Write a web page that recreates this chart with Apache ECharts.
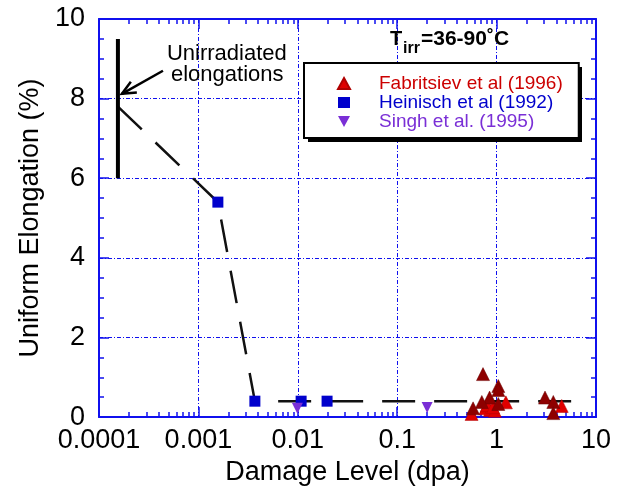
<!DOCTYPE html>
<html>
<head>
<meta charset="utf-8">
<script src="https://cdn.jsdelivr.net/npm/echarts@6/dist/echarts.min.js"></script>
<style>html,body{margin:0;padding:0;background:#fff}#c{width:619px;height:491px}</style>
</head>
<body>
<div id="c"></div>
<script>
// ---- data ----
const xTickLabels = ['0.0001', '0.001', '0.01', '0.1', '1', '10'];
const yTickLabels = ['0', '2', '4', '6', '8', '10'];
const seriesNames = ['Fabritsiev et al (1996)', 'Heinisch et al (1992)', 'Singh et al. (1995)'];
const fabritsievDark = [[0.73,1.08],[1.04,0.78],[1.04,0.68],[0.85,0.49],[0.71,0.38],[1.04,0.33],[0.58,0.22],[3.07,0.49],[3.72,0.38],[3.72,0.10]];
const fabritsievBright = [[1.24,0.37],[0.56,0.08],[0.77,0.22],[0.86,0.18],[0.96,0.16],[0.80,0.30],[4.52,0.28],[0.92,0.25]];
const heinisch = [[0.00157,5.4],[0.0037,0.4],[0.0108,0.4],[0.0197,0.4]];
const singh = [[0.0099,0.22],[0.2,0.24]];
const trendLine = [[0.000155,7.8],[0.00157,5.4],[0.0037,0.4],[6.15,0.4]];
const unirradiated = [[0.000155,6.0],[0.000155,9.5]];
const annotationText = ['Unirradiated', 'elongations'];

const FONT = '"Liberation Sans", Arial, Helvetica, sans-serif';
const BLUE = '#1010ee';
const GRID_DASH = [4, 2, 1, 2];
const DOWN_TRIANGLE = 'path://M0,0 L10,0 L5,9 Z';

// minor tick positions in log10 space (axis structure, not data)
const minorLog = [];
for (let d = -4; d < 1; d++) for (let m = 2; m <= 9; m++) minorLog.push(d + Math.log10(m));

const chart = echarts.init(document.getElementById('c'), null, {renderer: 'canvas'});

function majorX(pos, showLabel) {
  return {
    type: 'log', logBase: 10, min: 0.0001, max: 10, position: pos, gridIndex: 0,
    axisLine: {show: true, onZero: false, lineStyle: {color: BLUE, width: 2}},
    axisTick: {show: true, inside: true, length: 10, lineStyle: {color: BLUE, width: 1.5}},
    axisLabel: {show: showLabel, margin: 10, color: '#000', fontSize: 27, fontFamily: FONT,
      formatter: function (v, i) { return xTickLabels[i]; }},
    splitLine: {show: showLabel, lineStyle: {color: BLUE, width: 1, type: GRID_DASH}},
    minorTick: {show: false}, minorSplitLine: {show: false},
    name: showLabel ? 'Damage Level (dpa)' : '', nameLocation: 'middle', nameGap: 36,
    nameTextStyle: {color: '#000', fontSize: 27, fontFamily: FONT}
  };
}
function minorX(pos) {
  return {
    type: 'value', min: -4, max: 1, position: pos, gridIndex: 0,
    axisLine: {show: false, onZero: false},
    axisTick: {show: true, inside: true, length: 5, customValues: minorLog, lineStyle: {color: BLUE, width: 1.5}},
    axisLabel: {show: false}, splitLine: {show: false}
  };
}
function yAx(pos, showLabel) {
  return {
    type: 'value', min: 0, max: 10, interval: 2, position: pos, gridIndex: 0,
    axisLine: {show: true, onZero: false, lineStyle: {color: BLUE, width: 2}},
    axisTick: {show: true, inside: true, length: 10, lineStyle: {color: BLUE, width: 1.5}},
    minorTick: {show: true, splitNumber: 4, length: 5, lineStyle: {color: BLUE, width: 1.5}},
    axisLabel: {show: showLabel, margin: 14, color: '#000', fontSize: 27, fontFamily: FONT,
      formatter: function (v, i) { return yTickLabels[i]; }},
    splitLine: {show: showLabel, lineStyle: {color: BLUE, width: 1, type: GRID_DASH}},
    name: showLabel ? 'Uniform Elongation (%)' : '', nameLocation: 'middle', nameGap: 52,
    nameTextStyle: {color: '#000', fontSize: 27, fontFamily: FONT}
  };
}

const LEG = {left: 304, top: 63, w: 274, h: 75};

const option = {
  animation: false,
  backgroundColor: '#fff',
  grid: {left: 99, top: 19, right: 23, bottom: 73, containLabel: false},
  xAxis: [majorX('bottom', true), minorX('bottom'), majorX('top', false), minorX('top')],
  yAxis: [yAx('left', true), yAx('right', false)],
  legend: {
    orient: 'vertical', left: LEG.left, top: LEG.top, z: 6,
    padding: [11, 16, 7, 33], itemGap: 0, itemWidth: 12, itemHeight: 11,
    symbolKeepAspect: true,
    backgroundColor: '#fff', borderColor: '#000', borderWidth: 2,
    textStyle: {fontSize: 19, lineHeight: 19, fontFamily: FONT,
      rich: {g: {width: 24, fontSize: 19, lineHeight: 19}}},
    formatter: function (name) { return '{g|}' + name; },
    selectedMode: false,
    data: [
      {name: seriesNames[0], icon: 'triangle', textStyle: {color: '#cc0000'}},
      {name: seriesNames[1], icon: 'rect', textStyle: {color: '#0000cc'}},
      {name: seriesNames[2], icon: DOWN_TRIANGLE, textStyle: {color: '#7a2fd6'}}
    ]
  },
  series: [
    {type: 'line', name: 'trend', data: trendLine, symbol: 'none', z: 2,
     lineStyle: {color: '#111', width: 2.5, type: [33, 19]}},
    {type: 'line', name: 'unirradiated', data: unirradiated, symbol: 'none', z: 2,
     lineStyle: {color: '#000', width: 4}},
    {type: 'scatter', name: seriesNames[0], data: fabritsievBright, symbol: 'triangle', symbolSize: 13, z: 3,
     itemStyle: {color: '#e00000', borderColor: '#b00000', borderWidth: 0.5, opacity: 1}},
    {type: 'scatter', name: seriesNames[0], data: fabritsievDark, symbol: 'triangle', symbolSize: 13, z: 4,
     itemStyle: {color: '#8e0000', borderColor: '#6a0000', borderWidth: 0.5, opacity: 1}},
    {type: 'scatter', name: seriesNames[1], data: heinisch, symbol: 'rect', symbolSize: 11, z: 4,
     itemStyle: {color: '#0000cc', opacity: 1}},
    {type: 'scatter', name: seriesNames[2], data: singh, symbol: 'triangle', symbolRotate: 180, symbolSize: 11, z: 4,
     itemStyle: {color: '#7a2fd6', opacity: 1}}
  ]
};
chart.setOption(option);

// annotation placed relative to data coordinates
const tip = chart.convertToPixel({xAxisIndex: 0, yAxisIndex: 0}, [0.00017, 8.12]);
const tail = chart.convertToPixel({xAxisIndex: 0, yAxisIndex: 0}, [0.00044, 8.7]);
const dx = tail[0] - tip[0], dy = tail[1] - tip[1];
const L = Math.sqrt(dx * dx + dy * dy), ux = dx / L, uy = dy / L;
const hl = 15, hw = 0.42;
const w1 = [tip[0] + hl * (ux * Math.cos(hw) - uy * Math.sin(hw)), tip[1] + hl * (uy * Math.cos(hw) + ux * Math.sin(hw))];
const w2 = [tip[0] + hl * (ux * Math.cos(-hw) - uy * Math.sin(-hw)), tip[1] + hl * (uy * Math.cos(-hw) + ux * Math.sin(-hw))];

chart.setOption({
  graphic: [
    {type: 'rect', shape: {x: LEG.left + 4, y: LEG.top + 4, width: LEG.w, height: LEG.h}, style: {fill: '#000'}, z: 5},
    {type: 'line', shape: {x1: tip[0], y1: tip[1], x2: tail[0], y2: tail[1]}, style: {stroke: '#000', lineWidth: 2.5}, z: 10},
    {type: 'polyline', shape: {points: [w1, tip, w2]}, style: {stroke: '#000', lineWidth: 2.5, fill: null}, z: 10},
    {type: 'text', left: tail[0] + 4, top: 43, style: {text: annotationText[0], font: '22px ' + FONT, fill: '#000'}, z: 10},
    {type: 'text', left: tail[0] + 8, top: 64, style: {text: annotationText[1], font: '22px ' + FONT, fill: '#000'}, z: 10},
    {type: 'text', x: 390, y: 39, style: {text: 'T', font: 'bold 20px ' + FONT, fill: '#000', verticalAlign: 'middle'}, z: 10},
    {type: 'text', x: 403, y: 48.5, style: {text: 'irr', font: 'bold 16px ' + FONT, fill: '#000', verticalAlign: 'middle'}, z: 10},
    {type: 'text', x: 421, y: 39, style: {text: '=36-90˚C', font: 'bold 21px ' + FONT, fill: '#000', verticalAlign: 'middle'}, z: 10}
  ]
});
</script>
</body>
</html>
